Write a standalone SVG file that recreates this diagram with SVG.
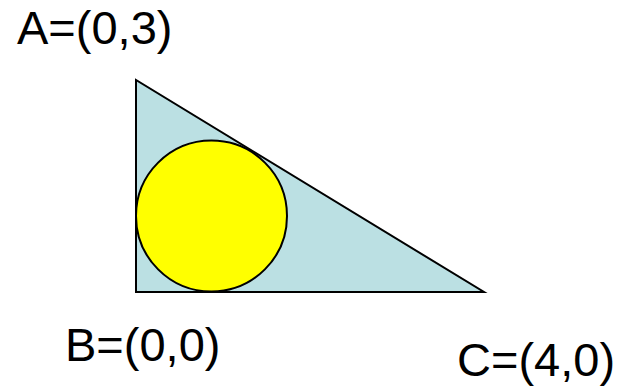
<svg xmlns="http://www.w3.org/2000/svg" width="620" height="386" viewBox="0 0 620 386">
<style>
.lbl{font-family:"Liberation Sans",Arial,sans-serif;font-size:47px;fill:#000}
.shape{stroke:#000;stroke-width:2}
</style>
<rect width="620" height="386" fill="#fff"/>
<g id="triangle"><polygon class="shape" points="136,80 136,292 484,292" fill="#bbe0e3"/></g>
<g id="incircle"><circle class="shape" cx="211.5" cy="216" r="75.5" fill="#ffff00"/></g>
<g id="labels">
<text class="lbl" x="17" y="44">A=(0,3)</text>
<text class="lbl" x="65" y="361">B=(0,0)</text>
<text class="lbl" x="457" y="376">C=(4,0)</text>
</g>
</svg>
